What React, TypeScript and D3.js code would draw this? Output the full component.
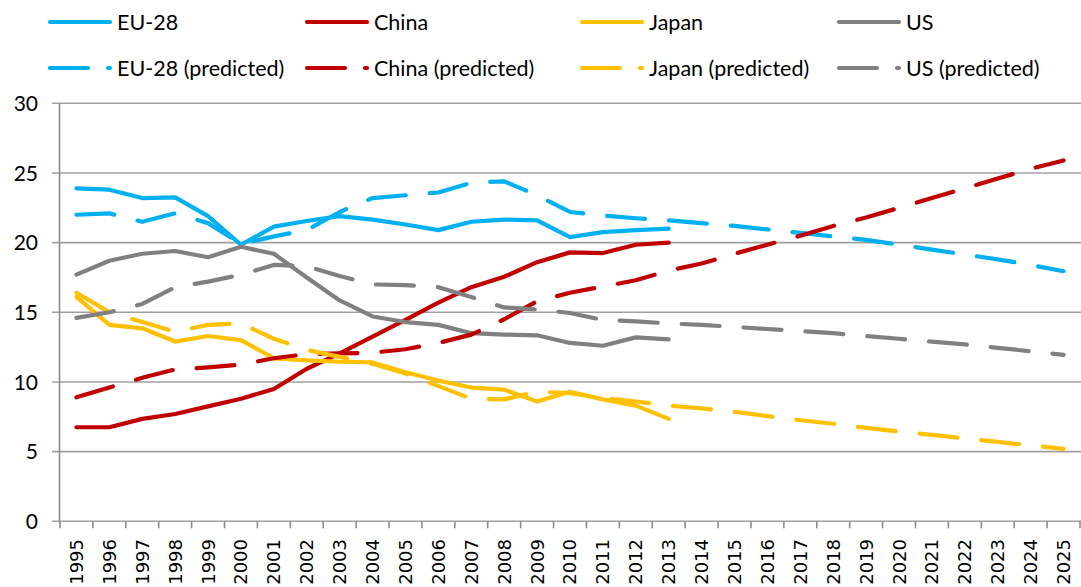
import * as d3 from "d3";
import React from "react";

const years = d3.range(1995, 2026);
const yTicks = [0, 5, 10, 15, 20, 25, 30];

// actual values 1995-2013
const eu = [23.9, 23.8, 23.2, 23.25, 21.9, 19.85, 21.15, 21.55, 21.9, 21.65, 21.3, 20.9, 21.5, 21.65, 21.6, 20.4, 20.75, 20.9, 21.0];
const china = [6.75, 6.75, 7.35, 7.7, 8.25, 8.8, 9.5, 10.95, 12.05, 13.25, 14.45, 15.7, 16.8, 17.55, 18.6, 19.3, 19.25, 19.85, 20.0];
const japan = [16.1, 14.1, 13.85, 12.9, 13.3, 13.0, 11.7, 11.55, 11.45, 11.4, 10.7, 10.1, 9.6, 9.45, 8.6, 9.3, 8.75, 8.3, 7.35];
const us = [17.7, 18.7, 19.2, 19.4, 18.95, 19.7, 19.2, 17.5, 15.85, 14.7, 14.3, 14.1, 13.5, 13.4, 13.35, 12.8, 12.6, 13.2, 13.05];

// predicted values 1995-2025
const euPred = [22.0, 22.1, 21.5, 22.1, 21.4, 19.9, 20.45, 20.9, 22.2, 23.2, 23.4, 23.6, 24.3, 24.4, 23.4, 22.2, 21.95, 21.75, 21.6, 21.4, 21.2, 20.95, 20.7, 20.45, 20.2, 19.85, 19.5, 19.15, 18.8, 18.4, 17.95];
const chinaPred = [8.9, 9.6, 10.3, 10.9, 11.05, 11.25, 11.7, 12.0, 12.05, 12.1, 12.35, 12.8, 13.4, 14.5, 15.8, 16.4, 16.85, 17.3, 18.0, 18.5, 19.2, 19.85, 20.5, 21.2, 21.8, 22.5, 23.2, 23.9, 24.6, 25.3, 25.9];
const japanPred = [16.4, 15.0, 14.3, 13.6, 14.1, 14.2, 13.1, 12.3, 11.8, 11.3, 10.6, 9.7, 8.8, 8.75, 9.3, 9.2, 8.85, 8.6, 8.3, 8.1, 7.85, 7.55, 7.25, 7.0, 6.7, 6.45, 6.2, 5.95, 5.7, 5.45, 5.2];
const usPred = [14.6, 15.0, 15.6, 16.8, 17.2, 17.7, 18.4, 18.3, 17.6, 17.0, 16.95, 16.8, 16.1, 15.35, 15.2, 14.95, 14.45, 14.35, 14.2, 14.1, 13.95, 13.8, 13.65, 13.5, 13.3, 13.1, 12.9, 12.7, 12.45, 12.2, 11.95];

const series = [
  { name: "EU-28", values: eu, color: "#00B0F0", dashed: false },
  { name: "China", values: china, color: "#C00000", dashed: false },
  { name: "Japan", values: japan, color: "#FFC000", dashed: false },
  { name: "US", values: us, color: "#808080", dashed: false },
  { name: "EU-28 (predicted)", values: euPred, color: "#00B0F0", dashed: true },
  { name: "China (predicted)", values: chinaPred, color: "#C00000", dashed: true },
  { name: "Japan (predicted)", values: japanPred, color: "#FFC000", dashed: true },
  { name: "US (predicted)", values: usPred, color: "#808080", dashed: true },
];

const width = 1081;
const height = 587;
const left = 60;
const right = 1080;
const top = 103.3;
const bottom = 521.3;
const dash = "38 24";
const legendX = [48, 305, 580, 837];
const legendY = [22, 68];

const App = () => {
  const x = d3.scaleBand<number>().domain(years).range([left, right]);
  const y = d3.scaleLinear().domain([0, 30]).range([bottom, top]);
  const line = d3
    .line<number>()
    .x((d, i) => (x(years[i]) as number) + x.bandwidth() / 2)
    .y((d) => y(d));

  return (
    <svg
      width={width}
      height={height}
      style={{ position: "absolute", left: 0, top: 0, background: "#fff" }}
    >
      {/* gridlines */}
      {yTicks.map((t) => (
        <g key={t}>
          <line x1={52} x2={width} y1={y(t)} y2={y(t)} stroke="#a0a0a0" strokeWidth={1.6} />
          <text
            x={38}
            y={y(t)}
            dy="0.36em"
            textAnchor="end"
            fontFamily="Lato, sans-serif"
            fontSize={21}
            fill="#000"
          >
            {t}
          </text>
        </g>
      ))}
      <line x1={59.5} x2={59.5} y1={top} y2={bottom} stroke="#8c8c8c" strokeWidth={1.6} />
      {/* x axis ticks */}
      {years.map((yr) => (
        <line
          key={"t" + yr}
          x1={x(yr) as number}
          x2={x(yr) as number}
          y1={bottom}
          y2={bottom + 7}
          stroke="#8c8c8c"
          strokeWidth={1.6}
        />
      ))}
      <line x1={right} x2={right} y1={bottom} y2={bottom + 7} stroke="#8c8c8c" strokeWidth={1.6} />
      {years.map((yr) => (
        <text
          key={"l" + yr}
          transform={`translate(${(x(yr) as number) + x.bandwidth() / 2},539) rotate(-90)`}
          dy="0.36em"
          textAnchor="end"
          fontFamily="DejaVu Sans, sans-serif"
          fontSize={18}
          fill="#000"
        >
          {yr}
        </text>
      ))}
      {/* lines */}
      {series.map((s) => (
        <path
          key={s.name}
          d={line(s.values) as string}
          fill="none"
          stroke={s.color}
          strokeWidth={4.2}
          strokeLinecap="round"
          strokeLinejoin="round"
          strokeDasharray={s.dashed ? dash : undefined}
        />
      ))}
      {/* legend */}
      {series.map((s, i) => {
        const lx = legendX[i % 4];
        const ly = legendY[s.dashed ? 1 : 0];
        return (
          <g key={"lg" + s.name}>
            <line
              x1={lx + 2}
              x2={lx + 62}
              y1={ly}
              y2={ly}
              stroke={s.color}
              strokeWidth={4.2}
              strokeLinecap="round"
              strokeDasharray={s.dashed ? "38 20" : undefined}
            />
            <text
              x={lx + 69}
              y={ly}
              dy="0.36em"
              fontFamily="Lato, sans-serif"
              fontSize={21.5}
              fill="#000"
            >
              {s.name}
            </text>
          </g>
        );
      })}
    </svg>
  );
};

export default App;
